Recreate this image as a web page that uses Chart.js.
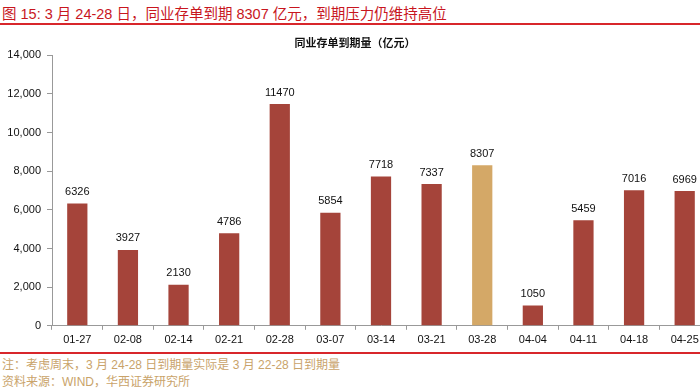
<!DOCTYPE html>
<html><head><meta charset="utf-8">
<script src="https://cdn.jsdelivr.net/npm/chart.js@4"></script>
<style>
html,body{margin:0;padding:0;width:700px;height:388px;overflow:hidden;background:#fff;}
#title{position:absolute;left:2px;top:2px;font:14.5px "Liberation Sans","Noto Sans CJK SC",sans-serif;color:#C8161E;white-space:nowrap;}
#line1{position:absolute;left:0;top:23px;width:700px;height:2px;background:#D8262B;}
#line2{position:absolute;left:0;top:352px;width:700px;height:2px;background:#D8262B;}
#wrap{position:absolute;left:0;top:30px;width:710px;height:321px;}
.foot{position:absolute;left:2px;font:12px "Liberation Sans","Noto Sans CJK SC",sans-serif;color:#C9A36A;white-space:nowrap;}
</style></head>
<body>
<div id="title">图 15: 3 月 24-28 日，同业存单到期 8307 亿元，到期压力仍维持高位</div>
<div id="line1"></div>
<div id="wrap"><canvas id="c" width="710" height="321"></canvas></div>
<div id="line2"></div>
<div class="foot" style="top:355px">注：考虑周末，3 月 24-28 日到期量实际是 3 月 22-28 日到期量</div>
<div class="foot" style="top:372px">资料来源：WIND，华西证券研究所</div>
<script>
const categories = ["01-27","02-08","02-14","02-21","02-28","03-07","03-14","03-21","03-28","04-04","04-11","04-18","04-25"];
const values = [6326,3927,2130,4786,11470,5854,7718,7337,8307,1050,5459,7016,6969];
const highlight = "03-28";
const yTicks = [0,2000,4000,6000,8000,10000,12000,14000];

const colors = categories.map(c => c === highlight ? "#D4A867" : "#A5443A");

const labelPlugin = {
  id: "vals",
  afterDatasetsDraw(chart) {
    const ctx = chart.ctx;
    const meta = chart.getDatasetMeta(0);
    ctx.save();
    ctx.font = '11px "Liberation Sans", Arial, sans-serif';
    ctx.fillStyle = "#111";
    ctx.textAlign = "center";
    ctx.textBaseline = "bottom";
    meta.data.forEach((bar, i) => {
      ctx.fillText(String(values[i]), bar.x, bar.y - 6);
    });
    ctx.restore();
  }
};

new Chart(document.getElementById("c"), {
  type: "bar",
  data: {
    labels: categories,
    datasets: [{
      data: values,
      backgroundColor: colors,
      barPercentage: 0.4,
      categoryPercentage: 1.0
    }]
  },
  options: {
    responsive: false,
    animation: false,
    layout: { padding: { left: 0, right: 0, top: 0, bottom: 0 } },
    plugins: {
      legend: { display: false },
      tooltip: { enabled: false },
      title: {
        display: true,
        text: "同业存单到期量（亿元）",
        font: { size: 11, weight: "bold", family: '"Noto Sans CJK SC", sans-serif' },
        color: "#111",
        padding: { top: 6, bottom: 6 }
      }
    },
    scales: {
      x: {
        offset: true,
        grid: { display: true, offset: true, drawOnChartArea: false, drawTicks: true, tickLength: 4, color: "#999" },
        border: { display: true, color: "#999", width: 1 },
        ticks: { color: "#111", font: { size: 11, family: '"Liberation Sans", Arial, sans-serif' }, padding: 4, maxRotation: 0, autoSkip: false }
      },
      y: {
        min: 0, max: 14000,
        afterBuildTicks(scale) { scale.ticks = yTicks.map(v => ({ value: v })); },
        afterFit(scale) { scale.width = 52; },
        grid: { display: true, drawOnChartArea: false, drawTicks: true, tickLength: 5, color: "#999" },
        border: { display: true, color: "#999", width: 1 },
        ticks: {
          color: "#111",
          font: { size: 11, family: '"Liberation Sans", Arial, sans-serif' },
          padding: 6,
          callback: v => v.toLocaleString("en-US")
        }
      }
    }
  },
  plugins: [labelPlugin]
});
</script>
</body></html>
